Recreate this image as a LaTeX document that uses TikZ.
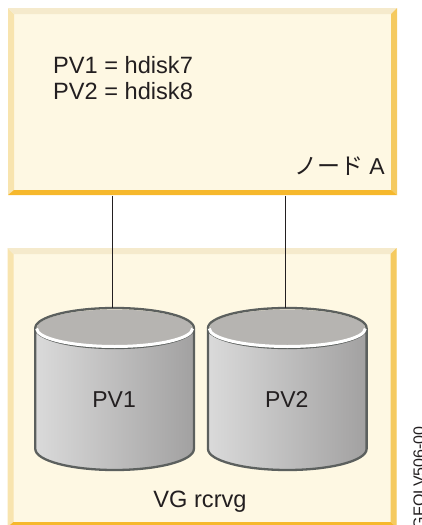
\documentclass[tikz,border=0pt]{standalone}
\usepackage{fontspec}
\setmainfont{Liberation Sans}
\newfontfamily\cjk{Noto Sans CJK JP}
\usetikzlibrary{calc}
\definecolor{boxfill}{HTML}{FEF8E3}
\definecolor{bevelleft}{HTML}{F8E4AE}
\definecolor{beveltop}{HTML}{F5EACC}
\definecolor{bevelright}{HTML}{F5CA60}
\definecolor{bevelbottom}{HTML}{F6B82C}
\definecolor{diskline}{HTML}{5C605E}
\definecolor{disktop}{HTML}{B6B4B1}
\definecolor{diskleft}{HTML}{DADADA}
\definecolor{diskright}{HTML}{A2A1A1}
\definecolor{inktext}{HTML}{231F20}
\begin{document}
\begin{tikzpicture}[
  x=1pt, y=-1pt,
  every node/.style={inner sep=0pt, text=inktext, font=\fontsize{23.6}{26}\selectfont},
  smalltext/.style={font=\fontsize{23}{26}\selectfont},
  bevelbox/.style={
    rectangle, fill=boxfill, minimum width=389pt,
    path picture={
      \fill[bevelleft] (path picture bounding box.north west) -- ++(6,6)
        -- ($(path picture bounding box.south west)+(6,-5)$) -- (path picture bounding box.south west) -- cycle;
      \fill[beveltop] (path picture bounding box.north west) -- ++(6,6)
        -- ($(path picture bounding box.north east)+(-6,6)$) -- (path picture bounding box.north east) -- cycle;
      \fill[bevelright] (path picture bounding box.north east) -- ++(-6,6)
        -- ($(path picture bounding box.south east)+(-6,-5)$) -- (path picture bounding box.south east) -- cycle;
      \fill[bevelbottom] (path picture bounding box.south west) -- ++(6,-5)
        -- ($(path picture bounding box.south east)+(-6,-5)$) -- (path picture bounding box.south east) -- cycle;
    }},
  diskbody/.style={draw=diskline, line width=2.3pt, left color=diskleft, right color=diskright},
  disklid/.style={fill=disktop},
  diskrim/.style={draw=white, line width=3pt},
  diskedge/.style={draw=diskline, line width=2.3pt},
  link/.style={draw=inktext, line width=1.2pt}
]
\clip (0,0) rectangle (422,525);
% Node
\node[bevelbox, minimum height=187pt] (nodeA) at (202.5,101.5) {};
\node[anchor=base west, align=left] (pvlist) at (53,99) {PV1 = hdisk7\\PV2 = hdisk8};
\node[smalltext, anchor=base east] (nodename) at (385,174) {{\cjk ノード} A};
% Volume group
\node[bevelbox, minimum height=279pt] (vgbox) at (202,387.5) {};
\node[anchor=base] (vgname) at (200,507) {VG rcrvg};
% Disks
\foreach \disk/\cx/\pvname in {A/114.6/PV1, B/287.3/PV2} {
  \path[diskbody] (\cx-79.3,328) -- (\cx-79.3,449) arc [start angle=180, end angle=0, x radius=79.3, y radius=21]
    -- (\cx+79.3,328) arc [start angle=0, end angle=180, x radius=79.3, y radius=20] -- cycle;
  \fill[disklid] (\cx,328) ellipse [x radius=78, y radius=18.5];
  \path[diskrim] (\cx-78,328.5) arc [start angle=180, end angle=0, x radius=78, y radius=18];
  \path[diskedge] (\cx-79.3,328) arc [start angle=180, end angle=360, x radius=79.3, y radius=20];
  \node[smalltext] (pv\disk) at (\cx-0.5,399.5) {\pvname};
  \coordinate (top\disk) at (\cx,308);
}
% Links
\coordinate (portA) at (112.5,195.5);
\coordinate (portB) at (285.5,195.5);
\draw[link] (portA) -- (portA |- topA);
\draw[link] (portB) -- (portB |- topB);
% Figure number
\node[rotate=90, anchor=base east, font=\fontsize{16}{18}\selectfont] (figno) at (424.5,426) {GFOLV506-00};
\end{tikzpicture}
\end{document}
